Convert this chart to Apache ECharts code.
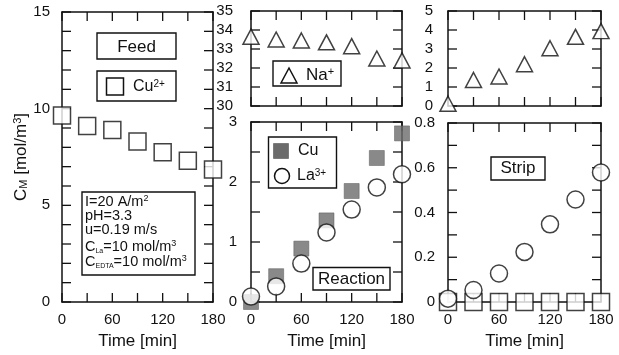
<!DOCTYPE html>
<html>
<head>
<meta charset="utf-8">
<script src="https://cdn.jsdelivr.net/npm/echarts@6/dist/echarts.min.js"></script>
<style>
  html, body { margin: 0; padding: 0; background: #fff; }
  #chart { width: 619px; height: 355px; }
</style>
</head>
<body>
<div id="chart"></div>
<script>
// Sampling times [min]
const timeMin = [0, 30, 60, 90, 120, 150, 180];

// Feed tank: Cu2+ and Na+ concentrations [mol/m3]
const feedCu = [9.65, 9.1, 8.9, 8.3, 7.75, 7.3, 6.85];
const feedNa = [33.65, 33.5, 33.45, 33.35, 33.15, 32.5, 32.4];

// Reaction tank: Cu and La3+ concentrations [mol/m3]
const reactionCu = [0, 0.43, 0.89, 1.36, 1.85, 2.4, 2.81];
const reactionLa = [0.09, 0.26, 0.64, 1.16, 1.54, 1.91, 2.13];

// Strip tank: Na+, Cu and La3+ concentrations [mol/m3]
const stripNa = [0.12, 1.37, 1.55, 2.2, 3.04, 3.64, 3.94];
const stripCu = [0, 0, 0, 0, 0, 0, 0];
const stripLa = [0.015, 0.054, 0.127, 0.224, 0.347, 0.458, 0.579];

// Tick labels
const timeTickLabels = [0, 60, 120, 180];
const feedCuTickLabels = [0, 5, 10, 15];
const feedNaTickLabels = [30, 31, 32, 33, 34, 35];
const reactionTickLabels = [0, 1, 2, 3];
const stripNaTickLabels = [0, 1, 2, 3, 4, 5];
const stripTickLabels = [0, 0.2, 0.4, 0.6, 0.8];

// Tick marks (inward on all four sides of each frame)
const timeTicks = [0, 30, 60, 90, 120, 150, 180];
const feedCuTicks = [0, 1, 2, 3, 4, 5, 6, 7, 8, 9, 10, 11, 12, 13, 14, 15];
const feedNaTicks = [30, 31, 32, 33, 34, 35];
const reactionTicks = [0, 0.5, 1, 1.5, 2, 2.5, 3];
const stripNaTicks = [0, 1, 2, 3, 4, 5];
const stripTicks = [0, 0.1, 0.2, 0.3, 0.4, 0.5, 0.6, 0.7, 0.8];

const FONT = '"Liberation Sans", Arial, Helvetica, sans-serif';
const INK = '#111';

const pairs = (vals) => timeMin.map((t, i) => [t, vals[i]]);
const hasLabel = (list) => (v) => list.some((l) => Math.abs(l - v) < 1e-6);
const fmtNum = (v) => String(Math.round(v * 10) / 10);

const panels = [
  { grid: { left: 62, top: 12, width: 151, height: 293 }, y: { min: 0, max: 15, interval: 1 },
    yLabels: feedCuTickLabels, yTicks: feedCuTicks, yMargin: 12, xLabels: true },
  { grid: { left: 251, top: 11, width: 151, height: 95 }, y: { min: 30, max: 35, interval: 1 },
    yLabels: feedNaTickLabels, yTicks: feedNaTicks, yMargin: 18, xLabels: false },
  { grid: { left: 251, top: 122, width: 151, height: 183 }, y: { min: 0, max: 3, interval: 0.5 },
    yLabels: reactionTickLabels, yTicks: reactionTicks, yMargin: 14, xLabels: true },
  { grid: { left: 448, top: 11, width: 153, height: 95 }, y: { min: 0, max: 5, interval: 1 },
    yLabels: stripNaTickLabels, yTicks: stripNaTicks, yMargin: 15, xLabels: false },
  { grid: { left: 448, top: 123, width: 153, height: 182 }, y: { min: 0, max: 0.8, interval: 0.1 },
    yLabels: stripTickLabels, yTicks: stripTicks, yMargin: 13, xLabels: true }
];

const axisLine = () => ({ show: true, onZero: false, lineStyle: { color: INK, width: 1.5 } });
const labelStyle = () => ({ color: INK, fontSize: 15, fontFamily: FONT });

const grids = [], xAxes = [], yAxes = [];
panels.forEach((p, i) => {
  grids.push(Object.assign({ containLabel: false }, p.grid));
  const xBase = () => ({ type: 'value', gridIndex: i, min: 0, max: 180, interval: 30,
    splitLine: { show: false }, axisLine: axisLine(), axisTick: { show: false } });
  xAxes.push(Object.assign(xBase(), {
    position: 'bottom',
    axisLabel: Object.assign({ show: p.xLabels, margin: 10,
      formatter: (v) => hasLabel(timeTickLabels)(v) ? String(v) : '' }, labelStyle()),
    name: p.xLabels ? 'Time [min]' : '',
    nameLocation: 'middle', nameGap: 31,
    nameTextStyle: { color: INK, fontSize: 17, fontFamily: FONT }
  }));
  xAxes.push(Object.assign(xBase(), { position: 'top', axisLabel: { show: false } }));
  const yBase = () => ({ type: 'value', gridIndex: i, min: p.y.min, max: p.y.max, interval: p.y.interval,
    splitLine: { show: false }, axisLine: axisLine(), axisTick: { show: false } });
  yAxes.push(Object.assign(yBase(), {
    position: 'left',
    axisLabel: Object.assign({ margin: p.yMargin,
      formatter: (v) => hasLabel(p.yLabels)(v) ? fmtNum(v) : '' }, labelStyle())
  }));
  yAxes.push(Object.assign(yBase(), { position: 'right', axisLabel: { show: false } }));
});

// Concentration axis title on the feed panel
Object.assign(yAxes[0], {
  name: 'C{s|M} [mol/m{p|3}]',
  nameLocation: 'middle', nameGap: 32,
  nameTextStyle: {
    color: INK, fontSize: 17, fontFamily: FONT,
    rich: {
      s: { fontSize: 11, fontFamily: FONT, color: INK, verticalAlign: 'bottom' },
      p: { fontSize: 11, fontFamily: FONT, color: INK, verticalAlign: 'top' }
    }
  }
});

const openStyle = () => ({ color: '#fff', borderColor: INK, borderWidth: 1.5 });
const mk = (gi, data, symbol, size, style, z) => ({
  type: 'scatter', xAxisIndex: gi * 2, yAxisIndex: gi * 2, data: pairs(data),
  symbol, symbolSize: size, itemStyle: style, clip: false, silent: true, z: z || 3
});

const series = [
  mk(0, feedCu, 'rect', 17, openStyle()),
  mk(1, feedNa, 'triangle', [16, 15], openStyle()),
  mk(2, reactionCu, 'rect', 15, { color: '#6b6b6b', borderColor: '#555', borderWidth: 0.6 }, 3),
  mk(2, reactionLa, 'circle', 17, openStyle(), 4),
  mk(3, stripNa, 'triangle', [16, 15], openStyle()),
  mk(4, stripCu, 'rect', 17, openStyle(), 3),
  mk(4, stripLa, 'circle', 17, openStyle(), 4)
];

// Boxed annotations and keys
const box = (x, y, w, h) => ({ type: 'rect', z: 10, shape: { x, y, width: w, height: h },
  style: { fill: '#fff', stroke: INK, lineWidth: 1.4 } });
const richStyles = (base) => ({
  p: { fontSize: Math.round(base * 0.62), fontFamily: FONT, fill: INK, verticalAlign: 'top' },
  s: { fontSize: Math.round(base * 0.5), fontFamily: FONT, fill: INK, verticalAlign: 'bottom' }
});
const label = (x, y, text, size, align) => ({ type: 'text', z: 11, x, y,
  style: { text, fontSize: size, fontFamily: FONT, fill: INK, align: align || 'left',
    verticalAlign: 'middle', rich: richStyles(size) } });

const graphic = [
  box(97, 33, 79, 26), label(136.5, 47, 'Feed', 17, 'center'),
  box(97, 71, 79, 30),
  { type: 'rect', z: 11, shape: { x: 106.5, y: 78, width: 17, height: 17 },
    style: { fill: '#fff', stroke: INK, lineWidth: 1.5 } },
  label(133, 87, 'Cu{p|2+}', 16),
  box(82, 192, 113, 83),
  label(85, 202, 'I=20 A/m{p|2}', 14.5),
  label(85, 216, 'pH=3.3', 14.5),
  label(85, 230, 'u=0.19 m/s', 14.5),
  label(85, 247, 'C{s|La}=10 mol/m{p|3}', 14.5),
  label(85, 262, 'C{s|EDTA}=10 mol/m{p|3}', 14.5),
  box(273, 61, 68, 25),
  { type: 'polygon', z: 11, shape: { points: [[289, 68], [297, 83], [281, 83]] },
    style: { fill: '#fff', stroke: INK, lineWidth: 1.5 } },
  label(306, 75, 'Na{p|+}', 17),
  box(268.5, 137, 68, 51),
  { type: 'rect', z: 11, shape: { x: 273.5, y: 143.5, width: 15, height: 15 },
    style: { fill: '#6b6b6b', stroke: '#555', lineWidth: 0.6 } },
  label(298, 151, 'Cu', 16),
  { type: 'circle', z: 11, shape: { cx: 282, cy: 176, r: 7.5 },
    style: { fill: '#fff', stroke: INK, lineWidth: 1.5 } },
  label(297, 176, 'La{p|3+}', 16),
  box(313, 267.5, 77, 22.5), label(351.5, 279, 'Reaction', 17, 'center'),
  box(491, 157, 54, 23), label(518, 168.5, 'Strip', 17, 'center')
];

const chart = echarts.init(document.getElementById('chart'), null, { renderer: 'canvas' });
chart.setOption({
  animation: false,
  grid: grids,
  xAxis: xAxes,
  yAxis: yAxes,
  series,
  graphic
});

// Inward tick marks on every side of each frame, positioned through each panel's axes
const TICK_LEN = 9, TICK_W = 1.3;
const tickRect = (x, y, w, h) => ({ type: 'rect', z: 1, silent: true,
  shape: { x, y, width: w, height: h }, style: { fill: INK } });
const tickEls = [];
panels.forEach((p, i) => {
  const finder = { xAxisIndex: i * 2, yAxisIndex: i * 2 };
  const lo = chart.convertToPixel(finder, [timeTicks[0], p.y.min]);
  const hi = chart.convertToPixel(finder, [timeTicks[timeTicks.length - 1], p.y.max]);
  if (!lo || !hi) return;
  const left = lo[0], right = hi[0], bottom = lo[1], top = hi[1];
  timeTicks.forEach((t) => {
    const px = chart.convertToPixel(finder, [t, p.y.min])[0];
    tickEls.push(tickRect(px - TICK_W / 2, bottom - TICK_LEN, TICK_W, TICK_LEN));
    tickEls.push(tickRect(px - TICK_W / 2, top, TICK_W, TICK_LEN));
  });
  p.yTicks.forEach((v) => {
    const py = chart.convertToPixel(finder, [timeTicks[0], v])[1];
    tickEls.push(tickRect(left, py - TICK_W / 2, TICK_LEN, TICK_W));
    tickEls.push(tickRect(right - TICK_LEN, py - TICK_W / 2, TICK_LEN, TICK_W));
  });
});
chart.setOption({ graphic: graphic.concat(tickEls) });
</script>
</body>
</html>
